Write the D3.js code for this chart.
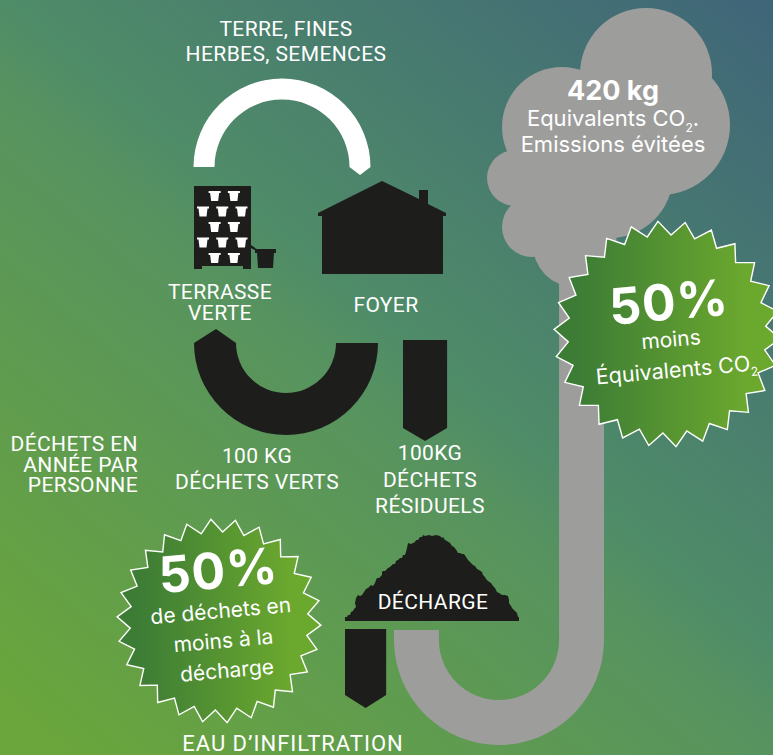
<!DOCTYPE html>
<html>
<head>
<meta charset="utf-8">
<script src="https://cdn.jsdelivr.net/npm/d3@7"></script>
<style>
  html, body { margin: 0; padding: 0; background: #55896a; overflow: hidden; }
  svg { display: block; }
</style>
</head>
<body>
<div id="chart"></div>
<script>
var flowNames = ["terre", "verts", "residuels", "infiltration", "co2"];
var flowKg = [50, 100, 105, 98, 107];

var topLabel = ["TERRE, FINES", "HERBES, SEMENCES"];
var terrasseLabel = ["TERRASSE", "VERTE"];
var foyerLabel = ["FOYER"];
var vertsLabel = ["100 KG", "DÉCHETS VERTS"];
var residuelsLabel = ["100KG", "DÉCHETS", "RÉSIDUELS"];
var sideLabel = ["DÉCHETS EN", "ANNÉE PAR", "PERSONNE"];
var decharge = "DÉCHARGE";
var infiltration = "EAU D’INFILTRATION";

var potsPerRow = [2, 3, 2, 3, 2];

// heap outline, offset from the left edge and height above the base
var heapX = [0, 0, 2, 3, 5, 6, 8, 9, 11, 10, 11, 13, 15, 17, 19, 21, 23, 26, 28, 30, 31, 32, 34, 37, 37, 38, 40, 43, 45, 48, 50, 51, 53, 55, 57, 58, 60, 61, 62, 63, 66, 70, 71, 73, 75, 77, 78, 80, 84, 87, 91, 95, 97, 98, 100, 102, 105, 107, 109, 112, 113, 115, 117, 119, 121, 123, 125, 128, 130, 132, 134, 137, 138, 140, 141, 143, 146, 148, 150, 152, 154, 157, 160, 163, 164, 164, 166, 167, 170, 172, 173, 174, 174];
var heapH = [0, 4, 4, 6, 6, 9, 10, 12, 14, 18, 23, 26, 25, 26, 29, 32, 33, 36, 35, 38, 41, 43, 43, 46, 49, 50, 50, 53, 54, 57, 57, 60, 61, 63, 63, 66, 66, 69, 73, 78, 77, 79, 81, 81, 84, 84, 86, 85, 86, 85, 86, 85, 83, 84, 81, 80, 78, 75, 74, 70, 68, 68, 67, 67, 64, 61, 59, 56, 55, 52, 51, 49, 46, 44, 42, 40, 38, 35, 33, 29, 28, 26, 26, 25, 21, 18, 15, 13, 10, 8, 4, 4, 0];

var width = 773,
    height = 755;

var grey = "#9d9d9c",
    black = "#1d1d1b";

var thickness = d3.scaleLinear().domain([0, 100]).range([0, 42]);
function flow(name) { return thickness(flowKg[flowNames.indexOf(name)]); }

var svg = d3.select("#chart").append("svg")
    .attr("width", width)
    .attr("height", height);

var defs = svg.append("defs");

var bg = defs.append("linearGradient")
    .attr("id", "bg")
    .attr("gradientUnits", "userSpaceOnUse")
    .attr("x1", 773).attr("y1", 0)
    .attr("x2", 100).attr("y2", 790);
bg.append("stop").attr("offset", 0).attr("stop-color", "#3f6579");
bg.append("stop").attr("offset", 0.48).attr("stop-color", "#4f8c68");
bg.append("stop").attr("offset", 0.55).attr("stop-color", "#57935f");
bg.append("stop").attr("offset", 1).attr("stop-color", "#6aa63b");

svg.append("rect")
    .attr("width", width)
    .attr("height", height)
    .attr("fill", "url(#bg)");

function lines(list, x, y, step, size, anchor, weight, family, spacing) {
  var t = svg.append("g")
      .attr("fill", "#fff")
      .attr("font-family", family || "Roboto")
      .attr("font-size", size)
      .attr("font-weight", weight || 400)
      .attr("letter-spacing", spacing === undefined ? 0.4 : spacing)
      .attr("text-anchor", anchor || "middle");
  t.selectAll("text")
      .data(list)
    .enter().append("text")
      .attr("x", x)
      .attr("y", function(d, i) { return y + i * step; })
      .text(function(d) { return d; });
}

var pathLine = d3.line();

// half ring with its centre line radius
function ring(cx, cy, r, w, a0, a1, fill) {
  var arc = d3.arc()
      .innerRadius(r - w / 2)
      .outerRadius(r + w / 2)
      .startAngle(a0)
      .endAngle(a1);
  svg.append("path")
      .attr("transform", "translate(" + cx + "," + cy + ")")
      .attr("d", arc())
      .attr("fill", fill);
}

// white arc on top
var whiteW = flow("terre");
ring(282, 167, 78, whiteW, -Math.PI / 2, Math.PI / 2, "#fff");
svg.append("path")
    .attr("d", pathLine([[360 - whiteW / 2, 167], [360 + whiteW / 2, 167], [360, 175]]))
    .attr("fill", "#fff");

// green waste arc
var vertW = flow("verts");
ring(286, 343, 71, vertW, Math.PI / 2, Math.PI * 1.5, black);
svg.append("path")
    .attr("d", pathLine([[286 - 71 - vertW / 2, 343], [286 - 71 + vertW / 2, 343], [216, 329]]))
    .attr("fill", black);

// residual waste
var resW = flow("residuels");
svg.append("path")
    .attr("d", pathLine([[403, 340], [403 + resW, 340], [403 + resW, 428], [403 + resW / 2, 441], [403, 428]]))
    .attr("fill", black);

// infiltration
var infW = flow("infiltration");
svg.append("path")
    .attr("d", pathLine([[345, 629], [345 + infW, 629], [345 + infW, 695], [345 + infW / 2, 708], [345, 695]]))
    .attr("fill", black);

// heap
var heapScaleX = d3.scaleLinear().domain([0, 174]).range([345, 519]);
var heapScaleY = d3.scaleLinear().domain([0, 86]).range([621, 535]);
var heapLine = d3.line()
    .x(function(d) { return heapScaleX(d[0]); })
    .y(function(d) { return heapScaleY(d[1]); });
svg.append("path")
    .attr("d", heapLine(d3.zip(heapX, heapH)) + "Z")
    .attr("fill", black);

// grey pipe
var pipeW = flow("co2");
var pipeR = 105 - pipeW / 2;
ring(499, 640, pipeR, pipeW, Math.PI / 2, Math.PI * 1.5, grey);
svg.append("rect").attr("x", 394).attr("y", 630).attr("width", pipeW).attr("height", 10).attr("fill", grey);
svg.append("rect").attr("x", 604 - pipeW).attr("y", 230).attr("width", pipeW).attr("height", 410).attr("fill", grey);

// cloud
var lobes = [[646, 74, 66], [660, 125, 70], [562, 127, 60], [515, 178, 28], [532, 227, 30], [575, 245, 42], [610, 175, 63], [570, 190, 60]];
svg.append("g").selectAll("circle")
    .data(lobes)
  .enter().append("circle")
    .attr("cx", function(d) { return d[0]; })
    .attr("cy", function(d) { return d[1]; })
    .attr("r", function(d) { return d[2]; })
    .attr("fill", grey);

// terrace wall
var wall = svg.append("g").attr("fill", black);
wall.append("rect").attr("x", 194).attr("y", 186).attr("width", 57).attr("height", 80);
wall.append("rect").attr("x", 194).attr("y", 266).attr("width", 8).attr("height", 3);
wall.append("rect").attr("x", 243).attr("y", 266).attr("width", 8).attr("height", 3);
wall.append("path").attr("d", pathLine([[251, 245], [258, 250], [258, 252], [251, 248]]));
wall.append("rect").attr("x", 255).attr("y", 249).attr("width", 21).attr("height", 4);
wall.append("path").attr("d", pathLine([[257, 252], [274, 252], [273, 268], [258, 268]]));

var potY = d3.scalePoint().domain(d3.range(potsPerRow.length)).range([191, 253]);
var potCol = d3.scaleLinear().domain([-1, 1]).range([203, 241.5]);
potsPerRow.forEach(function(n, row) {
  var cols = n === 3 ? [-1, 0, 1] : [-0.5, 0.5];
  cols.forEach(function(c) {
    var x = potCol(c) + (n === 2 ? 2 : 0),
        y = potY(row);
    svg.append("path")
        .attr("d", pathLine([[x - 6, y], [x + 6, y], [x + 6, y + 2], [x + 4.5, y + 2], [x + 3.5, y + 10], [x - 3.5, y + 10], [x - 4.5, y + 2], [x - 6, y + 2]]))
        .attr("fill", "#fff");
  });
});

// house
var house = svg.append("g").attr("fill", black);
house.append("path")
    .attr("d", pathLine([[318, 213], [382, 181], [419, 199], [419, 190], [428, 190], [428, 204], [446, 213], [446, 216], [443, 216], [443, 274], [322, 274], [322, 216], [318, 216]]));

// badges
function star(name, cx, cy, rOuter, rInner, phase) {
  var n = 26;
  var radial = d3.lineRadial()
      .angle(function(d) { return d[0]; })
      .radius(function(d) { return d[1]; })
      .curve(d3.curveLinearClosed);
  var pts = d3.range(n * 2).map(function(i) {
    return [phase + i * Math.PI / n, i % 2 ? rInner : rOuter];
  });
  var grad = defs.append("linearGradient")
      .attr("id", name)
      .attr("gradientUnits", "userSpaceOnUse")
      .attr("x1", -rOuter * 0.8).attr("y1", 0)
      .attr("x2", rOuter * 0.7).attr("y2", 0);
  grad.append("stop").attr("offset", 0).attr("stop-color", "#3c7c35");
  grad.append("stop").attr("offset", 1).attr("stop-color", "#6ba82e");
  svg.append("path")
      .attr("transform", "translate(" + cx + "," + cy + ")")
      .attr("d", radial(pts))
      .attr("fill", "url(#" + name + ")")
      .attr("stroke", "#fff")
      .attr("stroke-width", 1.4);
}
star("badgeTop", 667, 334, 113, 99, -0.08);
star("badgeBottom", 219, 621, 102, 89, -0.08);

// labels
lines(topLabel, 286, 36, 25, 21);
lines(terrasseLabel, 220, 299, 21, 21);
lines(foyerLabel, 386, 312, 0, 21);
lines(vertsLabel, 257, 463, 26, 21);
lines(residuelsLabel, 430, 460, 26.5, 21);
lines(sideLabel, 138, 451, 20.5, 21, "end");
lines([decharge], 433, 609, 0, 21);
lines([infiltration], 293, 751, 0, 22, "middle", 400, "Roboto", 1);

var badgeFont = "Inter";

// cloud text
lines(["420 kg"], 613, 100, 0, 27, "middle", 700, badgeFont, 0);
var co2Line = svg.append("text")
    .attr("x", 613).attr("y", 126)
    .attr("text-anchor", "middle")
    .attr("fill", "#fff")
    .attr("font-family", badgeFont)
    .attr("font-size", 22);
co2Line.append("tspan").text("Equivalents CO");
co2Line.append("tspan").attr("dy", 6).attr("font-size", 12).text("2");
co2Line.append("tspan").attr("dy", -6).text(".");
lines(["Emissions évitées"], 613, 152, 0, 22, "middle", 400, badgeFont, 0);

// badge text
var topText = svg.append("g")
    .attr("transform", "rotate(-5 668 340)")
    .attr("fill", "#fff")
    .attr("font-family", badgeFont)
    .attr("text-anchor", "middle");
topText.append("text").attr("x", 672).attr("y", 320).attr("font-size", 50).attr("font-weight", 700).attr("letter-spacing", 1).text("50%");
topText.append("text").attr("x", 671).attr("y", 347).attr("font-size", 21).text("moins");
var eq = topText.append("text").attr("x", 674).attr("y", 378).attr("font-size", 21.5);
eq.append("tspan").text("Équivalents CO");
eq.append("tspan").attr("dy", 5).attr("font-size", 12).text("2");

var botText = svg.append("g")
    .attr("transform", "rotate(-5 222 625)")
    .attr("fill", "#fff")
    .attr("font-family", badgeFont)
    .attr("text-anchor", "middle");
botText.append("text").attr("x", 223).attr("y", 588).attr("font-size", 50).attr("font-weight", 700).attr("letter-spacing", 1).text("50%");
botText.append("text").attr("x", 222).attr("y", 618).attr("font-size", 21).text("de déchets en");
botText.append("text").attr("x", 222).attr("y", 648).attr("font-size", 21).text("moins à la");
botText.append("text").attr("x", 223).attr("y", 678).attr("font-size", 21).text("décharge");
</script>
</body>
</html>
